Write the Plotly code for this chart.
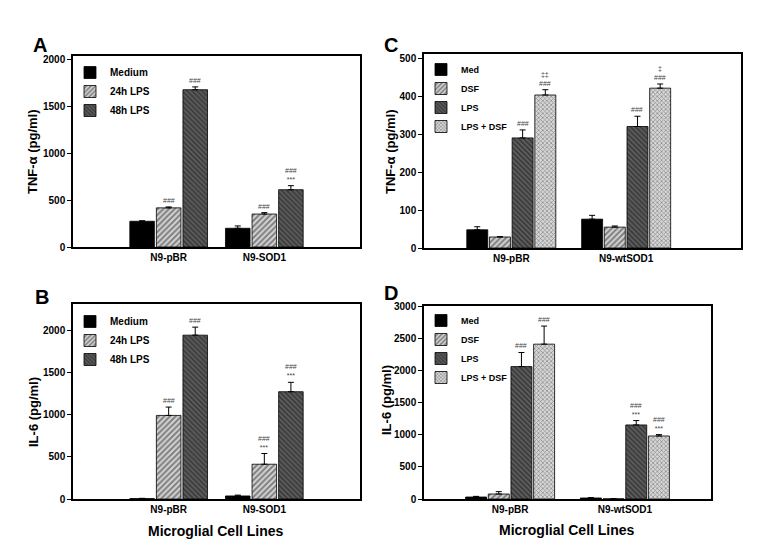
import plotly.graph_objects as go

# ---------------- data ----------------
cats_AB = ["N9-pBR", "N9-SOD1"]
cats_CD = ["N9-pBR", "N9-wtSOD1"]
series_AB = ["Medium", "24h LPS", "48h LPS"]
series_CD = ["Med", "DSF", "LPS", "LPS + DSF"]

A_medium = [275, 200];   A_medium_err = [5, 25]
A_24h = [418, 352];      A_24h_err = [10, 15]
A_48h = [1680, 612];     A_48h_err = [30, 43]

B_medium = [5, 36];      B_medium_err = [3, 10]
B_24h = [990, 412];      B_24h_err = [99, 127]
B_48h = [1941, 1271];    B_48h_err = [95, 111]

C_med = [48, 76];        C_med_err = [8, 10]
C_dsf = [29, 55];        C_dsf_err = [1, 3]
C_lps = [290, 320];      C_lps_err = [21, 27]
C_lpsdsf = [403, 421];   C_lpsdsf_err = [14, 11]

D_med = [31, 16];        D_med_err = [10, 5]
D_dsf = [78, 3];         D_dsf_err = [37, 0]
D_lps = [2065, 1155];    D_lps_err = [220, 68]
D_lpsdsf = [2415, 983];  D_lpsdsf_err = [282, 21]

# significance labels: (category index, series index, text)
A_sig = [(0, 1, "###"), (0, 2, "###"), (1, 1, "###"), (1, 2, "###<br>***")]
B_sig = [(0, 1, "###"), (0, 2, "###"), (1, 1, "###<br>***"), (1, 2, "###<br>***")]
C_sig = [(0, 2, "###"), (0, 3, "‡‡<br>###"), (1, 2, "###"), (1, 3, "‡<br>###")]
D_sig = [(0, 2, "###"), (0, 3, "###"), (1, 2, "###<br>***"), (1, 3, "###<br>***")]

# ---------------- styles ----------------
W, H = 761, 552
FONT = "Arial, Liberation Sans, sans-serif"

styles = [
    dict(color="black"),
    dict(color="#c8c8c8", pattern=dict(shape="/", fgcolor="#2a2a2a", bgcolor="#d4d4d4", size=4, solidity=0.5)),
    dict(color="#5a5a5a", pattern=dict(shape="\\", fgcolor="#151515", bgcolor="#5e5e5e", size=3.5, solidity=0.5)),
    dict(color="#c8c8c8", pattern=dict(shape="x", fgcolor="#444444", bgcolor="#d8d8d8", size=3, solidity=0.45)),
]

def px_x(p): return p / W
def px_y(p): return 1 - p / H

panels = [
    dict(name="A", xa="x", ya="y", legend="legend", cats=cats_AB, series=series_AB,
         vals=[A_medium, A_24h, A_48h], errs=[A_medium_err, A_24h_err, A_48h_err], sig=A_sig,
         xdom=[px_x(73), px_x(360)], ydom=[px_y(247), px_y(56)], xr=[-1, 2], yr=[0, 2040],
         dtick=500, group=0.833, ytitle="TNF-α (pg/ml)", xtitle=None,
         letter=(40, 45), yt=(32, 152), leg=(70, 58), lfont=10),
    dict(name="B", xa="x2", ya="y2", legend="legend2", cats=cats_AB, series=series_AB,
         vals=[B_medium, B_24h, B_48h], errs=[B_medium_err, B_24h_err, B_48h_err], sig=B_sig,
         xdom=[px_x(73), px_x(360)], ydom=[px_y(499), px_y(304)], xr=[-1, 2], yr=[0, 2310],
         dtick=500, group=0.833, ytitle="IL-6 (pg/ml)", xtitle="Microglial Cell Lines",
         letter=(42, 297), yt=(33, 412), xt=(216, 531), leg=(70, 307), lfont=10),
    dict(name="C", xa="x3", ya="y3", legend="legend3", cats=cats_CD, series=series_CD,
         vals=[C_med, C_dsf, C_lps, C_lpsdsf], errs=[C_med_err, C_dsf_err, C_lps_err, C_lpsdsf_err], sig=C_sig,
         xdom=[px_x(424), px_x(741)], ydom=[px_y(248), px_y(54)], xr=[-0.76, 2.0], yr=[0, 511],
         dtick=100, group=0.79, ytitle="TNF-α (pg/ml)", xtitle=None,
         letter=(391, 45), yt=(390, 152), leg=(421, 55), lfont=9),
    dict(name="D", xa="x4", ya="y4", legend="legend4", cats=cats_CD, series=series_CD,
         vals=[D_med, D_dsf, D_lps, D_lpsdsf], errs=[D_med_err, D_dsf_err, D_lps_err, D_lpsdsf_err], sig=D_sig,
         xdom=[px_x(424), px_x(711)], ydom=[px_y(499), px_y(306)], xr=[-0.75, 1.75], yr=[0, 3010],
         dtick=500, group=0.79, ytitle="IL-6 (pg/ml)", xtitle="Microglial Cell Lines",
         letter=(391, 293), yt=(386, 400), xt=(567, 530), leg=(421, 306), lfont=9),
]

fig = go.Figure()
annotations = []
layout = {}

for p in panels:
    n = len(p["series"])
    slot = p["group"] / n
    bw = slot * 0.925
    xs = list(range(len(p["cats"])))
    offsets = []
    for i, (s, v, e) in enumerate(zip(p["series"], p["vals"], p["errs"])):
        off = -p["group"] / 2 + i * slot + (slot - bw) / 2
        offsets.append(off)
        st = styles[i]
        marker = dict(color=st["color"], line=dict(color="black", width=0.8))
        if "pattern" in st:
            marker["pattern"] = st["pattern"]
        fig.add_trace(go.Bar(
            x=xs, y=v, name=s, width=bw, offset=off, marker=marker,
            error_y=dict(type="data", array=e, arrayminus=[0] * len(e), symmetric=False,
                         color="black", thickness=1, width=3),
            xaxis=p["xa"], yaxis=p["ya"], legend=p["legend"],
        ))
    # significance labels
    xref = p["xa"]; yref = p["ya"]
    for ci, si, txt in p["sig"]:
        annotations.append(dict(
            x=ci + offsets[si] + bw / 2, y=p["vals"][si][ci] + p["errs"][si][ci],
            xref=xref, yref=yref, text=txt, showarrow=False, xanchor="center",
            yanchor="bottom", yshift=1,
            font=dict(family=FONT, size=7, color="#444444"), align="center"))
    # axes
    xk = "xaxis" + p["xa"][1:]
    yk = "yaxis" + p["ya"][1:]
    layout[xk] = dict(domain=p["xdom"], anchor=p["ya"], range=p["xr"], tickmode="array",
                      tickvals=xs, ticktext=p["cats"], showline=True, mirror=True,
                      linecolor="black", linewidth=1.5, showgrid=False, zeroline=False,
                      ticks="", tickfont=dict(family=FONT, size=10, color="black", weight="bold"))
    layout[yk] = dict(domain=p["ydom"], anchor=p["xa"], range=p["yr"], dtick=p["dtick"],
                      showline=True, mirror=True, linecolor="black", linewidth=1.5,
                      showgrid=False, zeroline=False, ticks="outside", ticklen=4,
                      tickcolor="black", tickfont=dict(family=FONT, size=10, color="black", weight="bold"))
    lk = p["legend"]
    layout[lk] = dict(x=px_x(p["leg"][0]), y=px_y(p["leg"][1]), xanchor="left", yanchor="top",
                      bgcolor="rgba(0,0,0,0)", tracegroupgap=0, itemwidth=30,
                      font=dict(family=FONT, size=p["lfont"], color="black", weight="bold"))
    # panel letter
    annotations.append(dict(x=px_x(p["letter"][0]), y=px_y(p["letter"][1]), xref="paper", yref="paper",
                            text="<b>%s</b>" % p["name"], showarrow=False,
                            xanchor="center", yanchor="middle",
                            font=dict(family=FONT, size=20, color="black")))
    annotations.append(dict(x=px_x(p["yt"][0]), y=px_y(p["yt"][1]), xref="paper", yref="paper",
                            text="<b>%s</b>" % p["ytitle"], showarrow=False, textangle=-90,
                            xanchor="center", yanchor="middle",
                            font=dict(family=FONT, size=13, color="black")))
    if p["xtitle"]:
        annotations.append(dict(x=px_x(p["xt"][0]), y=px_y(p["xt"][1]), xref="paper", yref="paper",
                                text="<b>%s</b>" % p["xtitle"], showarrow=False,
                                xanchor="center", yanchor="middle",
                                font=dict(family=FONT, size=14, color="black")))

fig.update_layout(
    width=W, height=H, margin=dict(l=0, r=0, t=0, b=0, pad=0, autoexpand=False),
    paper_bgcolor="white", plot_bgcolor="white", barmode="group",
    showlegend=True, annotations=annotations, **layout,
)

fig.write_html("out.html", config={"responsive": False, "displayModeBar": False},
               post_script="document.body.style.margin='0px';document.body.style.padding='0px';")
